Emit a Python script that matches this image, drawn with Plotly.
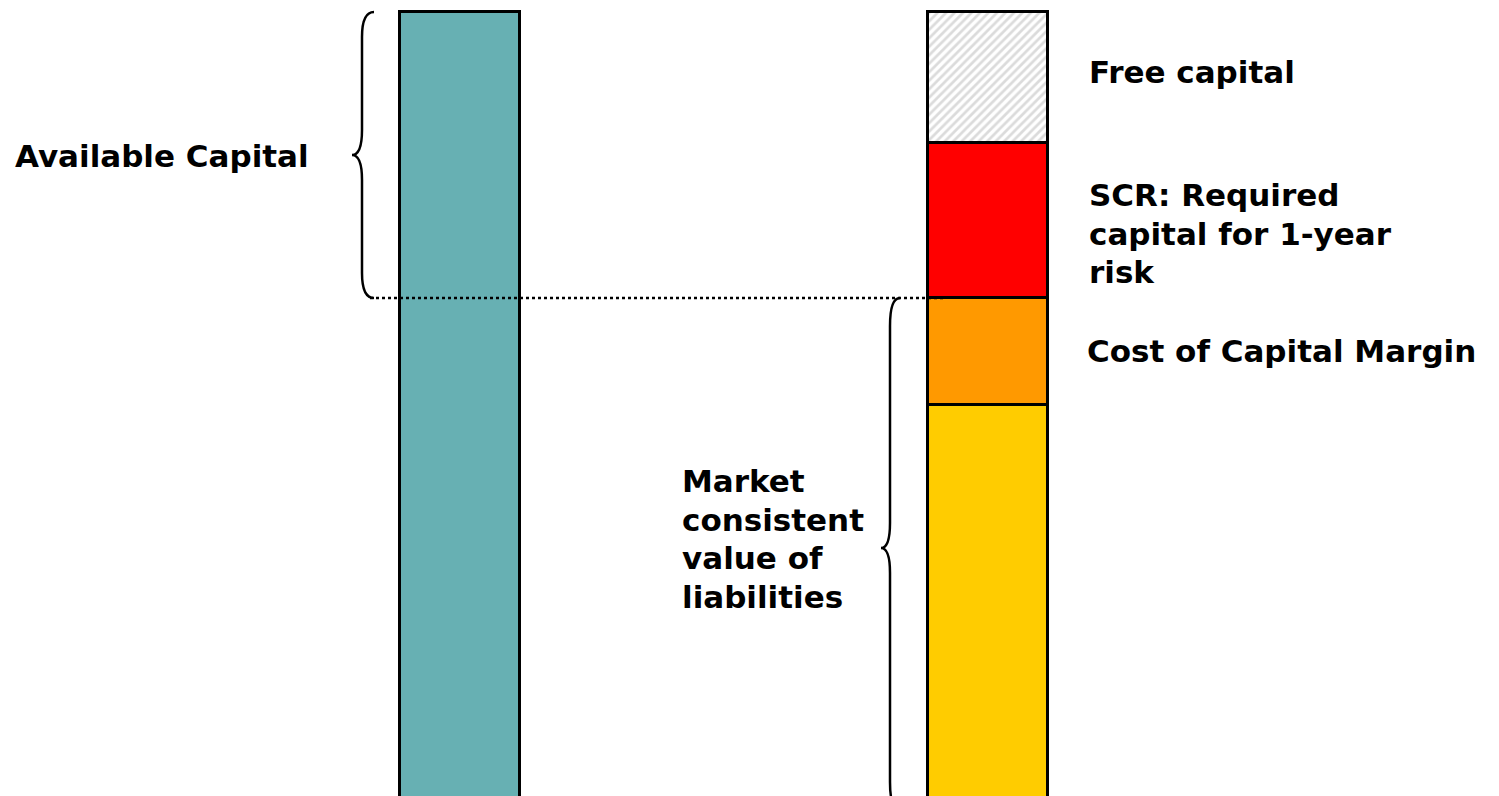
import plotly.graph_objects as go

# ---- data (values in chart units; bottom of bars at 0) ----
available_total = 792
stack_labels = ["Market consistent value of liabilities", "Cost of Capital Margin",
                "SCR: Required capital for 1-year risk", "Free capital"]
stack_values = [399, 107, 155, 131]
stack_colors = ["#FFCC00", "#FF9900", "#FF0000", "#FFFFFF"]
x_left, x_right = 460, 988
bar_width = 120

W, H = 1499, 796
Y0, Y1 = 8, 804  # y-axis range


def v(p):
    """pixel row -> data y"""
    return Y1 - p


fig = go.Figure()
fig.add_trace(go.Bar(x=[x_left], y=[available_total], width=bar_width,
                     marker=dict(color="#67B0B3", line=dict(color="black", width=3)),
                     showlegend=False, hoverinfo="skip"))
for i, (lab, val, col) in enumerate(zip(stack_labels, stack_values, stack_colors)):
    marker = dict(color=col, line=dict(color="black", width=3))
    if lab == "Free capital":
        marker["pattern"] = dict(shape="/", bgcolor="#FFFFFF", fgcolor="#B8B8B8",
                                 size=6, solidity=0.45, fillmode="overlay")
    fig.add_trace(go.Bar(x=[x_right], y=[val], width=bar_width, name=lab,
                         marker=marker, showlegend=False, hoverinfo="skip"))

liab_top = stack_values[0] + stack_values[1]

# dotted line at liabilities top
fig.add_shape(type="line", x0=370, x1=943, y0=liab_top, y1=liab_top,
              line=dict(color="black", width=2.5, dash="dot"))

# left brace
t, m, b = v(12), v(155), v(298)
fig.add_shape(type="path",
              path=(f"M 374,{t} Q 362,{t} 362,{t-25} L 362,{m+25} Q 362,{m} 352,{m} "
                    f"Q 362,{m} 362,{m-25} L 362,{b+25} Q 362,{b} 374,{b}"),
              line=dict(color="black", width=2.5))
# right brace
t, m, b = v(298), v(548), v(810)
fig.add_shape(type="path",
              path=(f"M 900,{t} Q 890,{t} 890,{t-28} L 890,{m+25} Q 890,{m} 881,{m} "
                    f"Q 890,{m} 890,{m-25} L 890,{b+28} Q 890,{b} 900,{b}"),
              line=dict(color="black", width=2.5))

font = dict(family="DejaVu Sans", size=31, color="black")
# (lines, left pixel x, first-line centre pixel y, line pitch)
annos = [
    (["Available Capital"], 13, 156),
    (["Free capital"], 1087, 72),
    (["SCR: Required", "capital for 1-year", "risk"], 1087, 195),
    (["Cost of Capital Margin"], 1085, 351),
    (["Market", "consistent", "value of", "liabilities"], 680, 481),
]
pitch = 38.5
for lines, xp, yp in annos:
    for k, line in enumerate(lines):
        fig.add_annotation(x=xp, y=v(yp + k * pitch), text=f"<b>{line}</b>",
                           showarrow=False, xanchor="left", yanchor="middle",
                           align="left", font=font)

fig.update_layout(width=W, height=H, margin=dict(l=0, r=0, t=0, b=0),
                  paper_bgcolor="white", plot_bgcolor="white", barmode="stack",
                  bargap=0,
                  xaxis=dict(range=[0, W], visible=False, fixedrange=True),
                  yaxis=dict(range=[Y0, Y1], visible=False, fixedrange=True))
fig.write_html("out.html")
